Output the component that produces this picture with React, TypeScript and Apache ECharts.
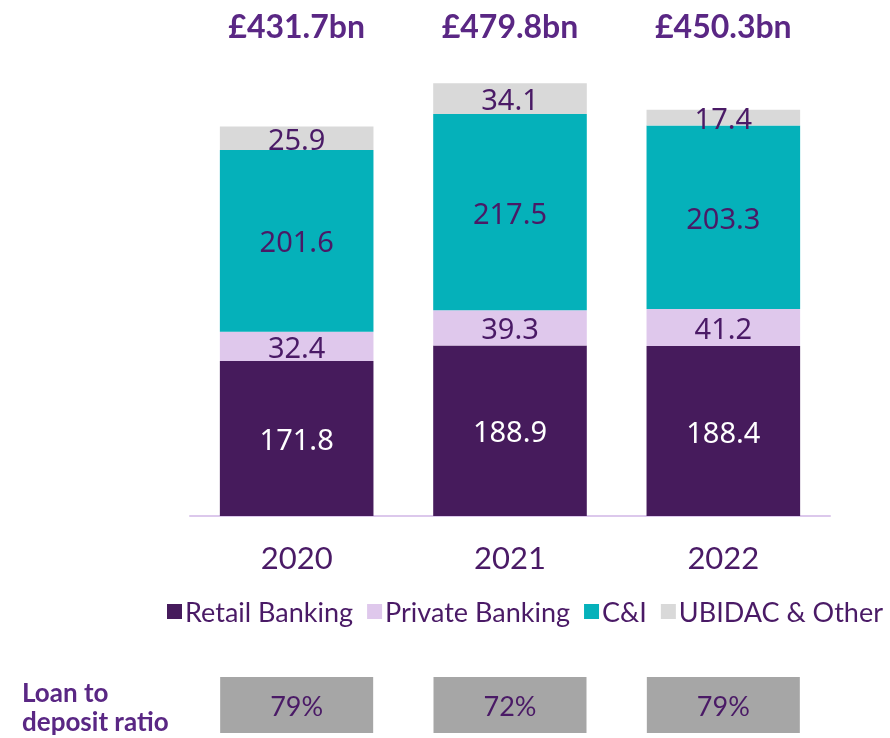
import React, { useEffect, useRef } from "react";
import * as echarts from "echarts";

const years = ["2020", "2021", "2022"];
const retail = [171.8, 188.9, 188.4];
const privateBanking = [32.4, 39.3, 41.2];
const cni = [201.6, 217.5, 203.3];
const ubidac = [25.9, 34.1, 17.4];
const totals = ["£431.7bn", "£479.8bn", "£450.3bn"];
const ltdRatio = ["79%", "72%", "79%"];

const PURPLE = "#4A1A66";
const FONT = "'Noto Sans', sans-serif";
const LFONT = "Lato, sans-serif";

export default function App() {
  const ref = useRef<HTMLDivElement>(null);
  useEffect(() => {
    if (!ref.current) return;
    const chart = echarts.init(ref.current, null, { renderer: "svg" });
    const seriesDefs = [
      { name: "Retail Banking", data: retail, color: "#461B5C", labelColor: "#FFFFFF" },
      { name: "Private Banking", data: privateBanking, color: "#DFC8EC", labelColor: PURPLE },
      { name: "C&I", data: cni, color: "#05B1BA", labelColor: PURPLE },
      { name: "UBIDAC & Other", data: ubidac, color: "#D9D9D9", labelColor: PURPLE },
    ];
    chart.setOption({
      animation: false,
      grid: { left: 190, right: 60, top: 65, bottom: 222 },
      legend: {
        left: 162,
        top: 593,
        itemWidth: 15,
        itemHeight: 15,
        itemGap: 14,
        icon: "rect",
        textStyle: { fontFamily: LFONT, fontSize: 27, color: PURPLE, padding: [0, 0, 0, -2] },
        data: seriesDefs.map((s) => s.name),
      },
      xAxis: [
        {
          type: "category",
          data: years,
          position: "bottom",
          axisLine: { lineStyle: { color: "#DCC8EC", width: 2 } },
          axisTick: { show: false },
          axisLabel: { margin: 25, fontFamily: LFONT, fontSize: 31, color: PURPLE },
        },
        {
          type: "category",
          data: totals,
          position: "top",
          axisLine: { show: false },
          axisTick: { show: false },
          axisLabel: { margin: 24, fontFamily: LFONT, fontWeight: "bold", fontSize: 32, color: "#5A2784" },
        },
        {
          type: "category",
          data: ltdRatio,
          position: "bottom",
          axisLine: { show: false },
          axisTick: { show: false },
          axisLabel: {
            margin: 161,
            fontFamily: LFONT,
            fontSize: 27,
            color: PURPLE,
            backgroundColor: "#A6A6A6",
            width: 153,
            height: 56,
            lineHeight: 56,
            align: "center",
          },
        },
      ],
      yAxis: { type: "value", min: 0, max: 500, show: false },
      series: seriesDefs.map((s) => ({
        name: s.name,
        type: "bar",
        stack: "total",
        barWidth: "72%",
        data: s.data,
        itemStyle: { color: s.color },
        label: {
          show: true,
          position: "inside",
          fontFamily: FONT,
          fontSize: 29,
          color: s.labelColor,
          formatter: (p: any) => p.value.toFixed(1),
        },
      })),
      graphic: [
        {
          type: "text",
          left: 22,
          top: 677,
          style: {
            text: "Loan to\ndeposit ratio",
            fontFamily: LFONT,
            fontWeight: "bold",
            fontSize: 26,
            lineHeight: 29,
            fill: "#5A2784",
          },
        },
      ],
    });
    return () => chart.dispose();
  }, []);
  return (
    <div
      ref={ref}
      style={{ position: "fixed", left: 0, top: 0, width: 890, height: 738 }}
    />
  );
}
